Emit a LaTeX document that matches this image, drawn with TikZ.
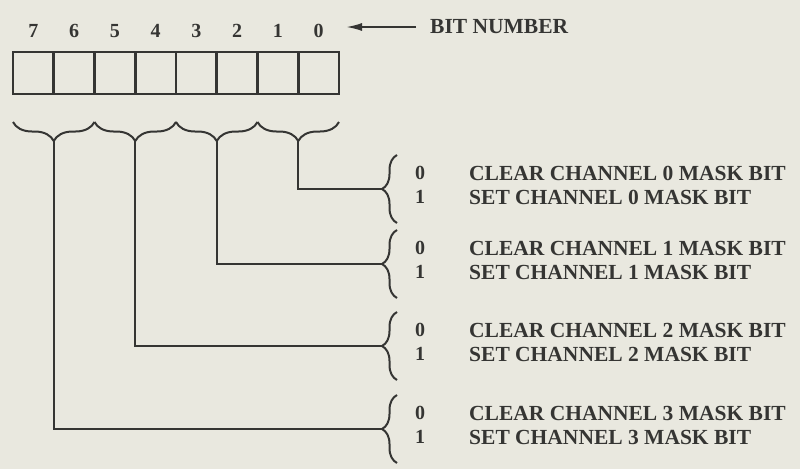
\documentclass[tikz,border=0pt]{standalone}
\usepackage{fontspec}
\setmainfont{Liberation Serif}
\usetikzlibrary{decorations.pathreplacing,arrows.meta,calc}
\definecolor{paper}{HTML}{E9E8DF}
\definecolor{ink}{HTML}{353533}
\begin{document}
\begin{tikzpicture}[x=1pt,y=-1pt,
  cell/.style={draw=ink,line width=2.6pt,minimum width=40.75pt,minimum height=42pt,inner sep=0pt,outer sep=0pt},
  lbl/.style={text=ink,font=\fontsize{21.5}{24}\selectfont\bfseries,inner sep=0pt},
  num/.style={text=ink,font=\fontsize{20}{24}\selectfont\bfseries,inner sep=0pt},
  ubrace/.style={draw=ink,line width=2pt,decorate,decoration={brace,amplitude=19pt}},
  cbrace/.style={draw=ink,line width=2pt,decorate,decoration={brace,amplitude=15pt}},
  conn/.style={draw=ink,line width=2pt}]
\fill[paper] (0,0) rectangle (800,469);
\useasboundingbox (0,0) rectangle (800,469);
% register cells
\foreach \i in {0,...,7}{
  \pgfmathsetmacro{\cx}{13+40.75*(7-\i)+20.375}
  \node[cell] (c\i) at (\cx,73) {};
  \node[num] (n\i) at (\cx,31) {\i};
}
% bit number label
\node[lbl,anchor=west] (bn) at (430,27) {BIT NUMBER};
\coordinate (ae) at (346,27);
\draw[draw=ink,line width=2pt,-{Latex[length=16pt,width=8pt]}] ([xshift=-14pt]bn.west) -- (ae);
% under braces (pairs of bits)
\foreach \k/\hi/\lo in {0/1/0,1/3/2,2/5/4,3/7/6}{
  \coordinate (ul\k) at ([yshift=-28pt]c\hi.south west);
  \coordinate (ur\k) at ([yshift=-28pt]c\lo.south east);
  \draw[ubrace] (ur\k) -- (ul\k);
  \coordinate (ut\k) at ($(ul\k)!0.5!(ur\k)+(0,19)$);
}
% channel groups
\foreach \k/\t in {0/173,1/248,2/330,3/413}{
  \pgfmathsetmacro{\c}{\t+16}
  \coordinate (bt\k) at (397,\c-34);
  \coordinate (bb\k) at (397,\c+34);
  \draw[cbrace] (bb\k) -- (bt\k);
  \coordinate (bp\k) at (382,\c);
  \node[num] (z\k) at (420,\t) {0};
  \node[num] (o\k) at (420,\t+24) {1};
  \node[lbl,anchor=west] (cl\k) at (469,\t) {CLEAR CHANNEL \k\ MASK BIT};
  \node[lbl,anchor=west] (st\k) at (469,\t+24) {SET CHANNEL \k\ MASK BIT};
  \draw[conn] (ut\k) |- (bp\k);
}
\end{tikzpicture}
\end{document}
